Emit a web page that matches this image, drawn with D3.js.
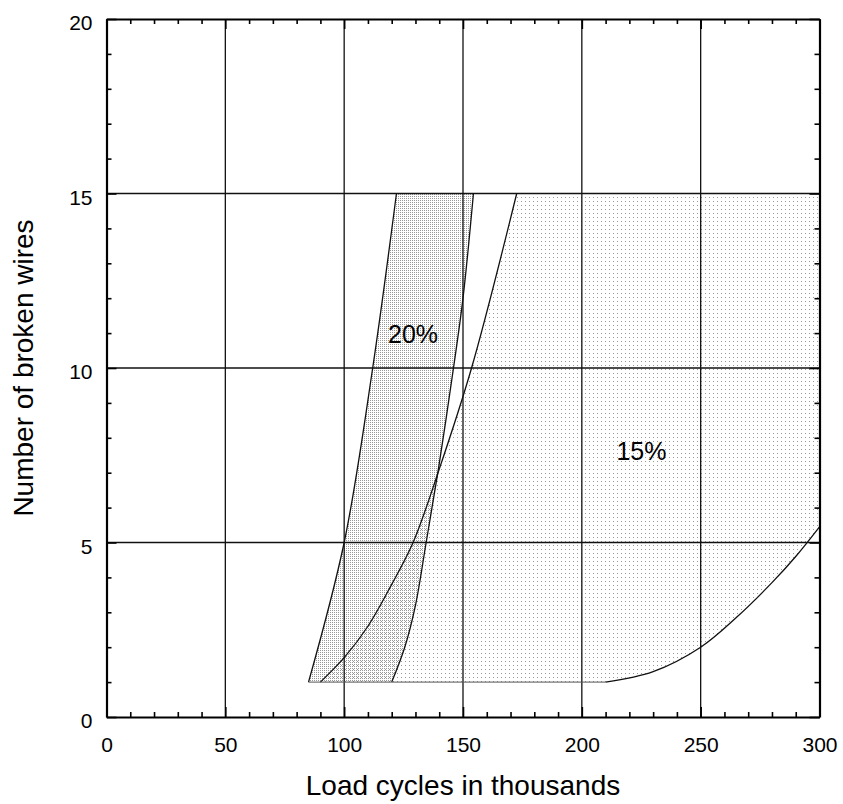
<!DOCTYPE html>
<html><head><meta charset="utf-8">
<script src="https://cdn.jsdelivr.net/npm/d3@7"></script>
<style>body{margin:0;background:#fff}svg{display:block}text{font-family:"Liberation Sans",Arial,sans-serif}</style>
</head><body><svg id="c" width="843" height="804"></svg>
<script>
// ---- data ----
const xMajorTicks = [0, 50, 100, 150, 200, 250, 300];
const yMajorTicks = [0, 5, 10, 15, 20];
const xMinorTicks = d3.range(0, 301, 10);
const yMinorTicks = d3.range(0, 21, 1);
const xGrid = [50, 100, 150, 200, 250];
const yGrid = [5, 10, 15];
// 20% band boundaries [x, y]
const band20Left = [[85, 1], [100, 5], [112, 10], [122, 15]];
const band20Right = [[120, 1], [125.5, 2], [130, 3.2], [134.5, 5], [139.6, 7.08], [146, 10], [150, 12], [154.4, 15]];
// 15% band boundaries
const band15Left = [[90, 1], [100, 1.7], [110, 2.6], [120, 3.8], [129, 5], [139.5, 7], [153.6, 10], [172.6, 15]];
const band15Bottom = [[210, 1], [230, 1.3], [250, 2], [265, 2.85], [280, 3.85], [290, 4.6], [300, 5.45]];
const bandTop = 15, bandBase = 1, xMax = 300;
const labels = [{text: "20%", x: 129, y: 10.72}, {text: "15%", x: 225.1, y: 7.36}];

// ---- layout ----
const L = 106.5, T = 19, R = 819.5, B = 717;
const svg = d3.select("#c");
const x = d3.scaleLinear().domain([0, 300]).range([L, R]);
const y = d3.scaleLinear().domain([0, 20]).range([B, T]);

const defs = svg.append("defs");
const p20 = defs.append("pattern").attr("id", "p20").attr("patternUnits", "userSpaceOnUse")
  .attr("width", 2).attr("height", 2);
p20.append("rect").attr("x", 0).attr("y", 0).attr("width", 1).attr("height", 1).attr("fill", "#999");
const p15 = defs.append("pattern").attr("id", "p15").attr("patternUnits", "userSpaceOnUse")
  .attr("width", 4).attr("height", 4);
p15.append("rect").attr("x", 1).attr("y", 1).attr("width", 1).attr("height", 1).attr("fill", "#999");
defs.append("clipPath").attr("id", "clip").append("rect")
  .attr("x", L).attr("y", T).attr("width", R - L).attr("height", B - T);

const g = svg.append("g").attr("clip-path", "url(#clip)");

const curve = d3.curveCatmullRom.alpha(0.5);
const line = d3.line().x(d => x(d[0])).y(d => y(d[1])).curve(curve);

function region15() {
  const up = line(band15Left);
  const bottomRev = line(band15Bottom.slice().reverse());
  return up + "L" + x(xMax) + "," + y(bandTop) + "L" + bottomRev.slice(1) + "L" + x(band15Left[0][0]) + "," + y(bandBase) + "Z";
}
function region20() {
  const up = line(band20Left);
  const downRight = line(band20Right.slice().reverse());
  return up + "L" + downRight.slice(1) + "Z";
}
g.append("path").attr("d", region15()).attr("fill", "url(#p15)").attr("shape-rendering", "crispEdges");
g.append("path").attr("d", region20()).attr("fill", "url(#p20)").attr("shape-rendering", "crispEdges");

// grid
g.selectAll(".gx").data(xGrid).join("line")
  .attr("x1", d => x(d)).attr("x2", d => x(d)).attr("y1", T).attr("y2", B)
  .attr("stroke", "#111").attr("stroke-width", 1.3);
g.selectAll(".gy").data(yGrid).join("line")
  .attr("y1", d => y(d)).attr("y2", d => y(d)).attr("x1", L).attr("x2", R)
  .attr("stroke", "#111").attr("stroke-width", 1.3);

// boundaries
const stroke = (sel) => sel.attr("fill", "none").attr("stroke", "#111").attr("stroke-width", 1.3);
g.append("path").attr("d", line(band20Left)).call(stroke);
g.append("path").attr("d", line(band20Right)).call(stroke);
g.append("path").attr("d", line(band15Left)).call(stroke);
g.append("path").attr("d", line(band15Bottom)).call(stroke);
g.append("line").attr("x1", x(band20Left[0][0])).attr("x2", x(band15Bottom[0][0]))
  .attr("y1", y(bandBase)).attr("y2", y(bandBase)).attr("stroke", "#555").attr("stroke-width", 1);

// labels
svg.selectAll(".lbl").data(labels).join("text")
  .attr("x", d => x(d.x)).attr("y", d => y(d.y)).attr("text-anchor", "middle")
  .attr("font-size", 25).attr("fill", "#000").text(d => d.text);

// axes
function addAxis(axisFn, scale, transform, minor, major, labelsOn) {
  const ga = svg.append("g").attr("transform", transform);
  ga.call(axisFn(scale).tickValues(minor.filter(v => !major.includes(v))).tickSize(-5).tickFormat(""));
  ga.select(".domain").remove();
  const gb = svg.append("g").attr("transform", transform);
  gb.call(axisFn(scale).tickValues(major).tickSize(-10).tickSizeOuter(0).tickPadding(labelsOn ? 16 : 0)
    .tickFormat(labelsOn ? d3.format("d") : ""));
  gb.select(".domain").attr("stroke-width", 2.2).attr("stroke", "#000");
  svg.selectAll(".tick line").attr("stroke", "#000").attr("stroke-width", 1.6);
  gb.selectAll("text").attr("font-size", 21).attr("fill", "#000").attr("font-family", '"Liberation Sans",Arial,sans-serif');
  return gb;
}
const bx = addAxis(d3.axisBottom, x, `translate(0,${B})`, xMinorTicks, xMajorTicks, true);
bx.selectAll("text").attr("dy", "0.71em").attr("y", 20);
addAxis(d3.axisTop, x, `translate(0,${T})`, xMinorTicks, xMajorTicks, false);
const ly = addAxis(d3.axisLeft, y, `translate(${L},0)`, yMinorTicks, yMajorTicks, true);
ly.selectAll("text").attr("x", -14).attr("dy", "0.5em");
addAxis(d3.axisRight, y, `translate(${R},0)`, yMinorTicks, yMajorTicks, false);

// titles
svg.append("text").attr("x", (L + R) / 2).attr("y", 795).attr("text-anchor", "middle")
  .attr("font-size", 28).attr("fill", "#000").text("Load cycles in thousands");
svg.append("text").attr("transform", `translate(33,${(T + B) / 2}) rotate(-90)`).attr("text-anchor", "middle")
  .attr("font-size", 28).attr("fill", "#000").text("Number of broken wires");
</script></body></html>
